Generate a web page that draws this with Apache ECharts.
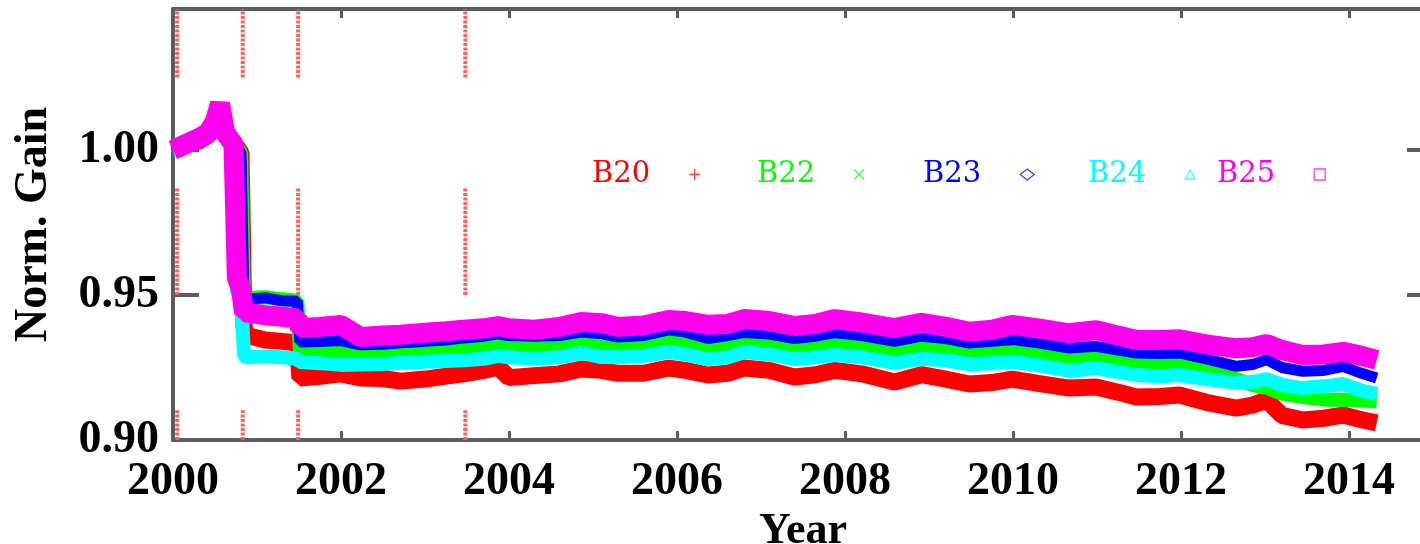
<!DOCTYPE html>
<html>
<head>
<meta charset="utf-8">
<script src="https://cdn.jsdelivr.net/npm/echarts@6/dist/echarts.min.js"></script>
<style>
  html, body { margin: 0; padding: 0; background: #fff; }
  #chart { width: 1420px; height: 544px; }
</style>
</head>
<body>
<div id="chart"></div>
<script>
// sample times (decimal year)
const years = [
  2000.00, 2000.15, 2000.30, 2000.42, 2000.50, 2000.56, 2000.62, 2000.72, 2000.76, 2000.81,
  2000.845, 2000.88, 2001.10, 2001.30, 2001.48, 2001.51, 2001.75, 2002.00, 2002.23, 2002.50,
  2002.71, 2003.00, 2003.25, 2003.46, 2003.70, 2003.87, 2004.00, 2004.30, 2004.60, 2004.86,
  2005.10, 2005.30, 2005.60, 2005.90, 2006.10, 2006.37, 2006.60, 2006.80, 2007.10, 2007.40,
  2007.65, 2007.88, 2008.20, 2008.59, 2008.91, 2009.20, 2009.48, 2009.75, 2009.99, 2010.30,
  2010.67, 2010.99, 2011.25, 2011.47, 2011.75, 2011.98, 2012.30, 2012.66, 2012.85, 2013.02,
  2013.20, 2013.45, 2013.70, 2013.93, 2014.15, 2014.33
];

const gainB20 = [
  1.000, 1.002, 1.003, 1.005, 1.009, 1.013, 1.005, 1.002, 1.001, 0.999,
  0.939, 0.936, 0.9345, 0.934, 0.9335, 0.9214, 0.922, 0.9228, 0.9214, 0.9212,
  0.9203, 0.921, 0.922, 0.9228, 0.924, 0.9252, 0.9215, 0.9222, 0.9228, 0.9245,
  0.924, 0.923, 0.923, 0.9248, 0.924, 0.9224, 0.923, 0.9248, 0.924, 0.9217,
  0.9225, 0.924, 0.9228, 0.920, 0.9225, 0.921, 0.9193, 0.9198, 0.921, 0.9195,
  0.9179, 0.9183, 0.9165, 0.9148, 0.915, 0.9155, 0.913, 0.911, 0.912, 0.9138,
  0.9085, 0.9069, 0.9075, 0.9086, 0.907, 0.9059
];
const gainB22 = [
  1.000, 1.002, 1.003, 1.005, 1.009, 1.013, 1.006, 1.002, 1.001, 0.999,
  0.9485, 0.949, 0.9492, 0.9485, 0.948, 0.9307, 0.9305, 0.9306, 0.930, 0.9303,
  0.9307, 0.931, 0.9315, 0.932, 0.932, 0.932, 0.9325, 0.932, 0.9325, 0.9336,
  0.932, 0.932, 0.9328, 0.9345, 0.934, 0.932, 0.9328, 0.934, 0.9335, 0.9318,
  0.9325, 0.9336, 0.933, 0.931, 0.9323, 0.931, 0.9297, 0.930, 0.9303, 0.9295,
  0.9283, 0.929, 0.9275, 0.926, 0.926, 0.9262, 0.9235, 0.921, 0.919, 0.918,
  0.916, 0.9148, 0.914, 0.9138, 0.9136, 0.9134
];
const gainB23 = [
  1.000, 1.002, 1.003, 1.005, 1.009, 1.014, 1.006, 1.002, 1.001, 0.999,
  0.948, 0.9485, 0.949, 0.948, 0.9478, 0.9338, 0.934, 0.9343, 0.9328, 0.933,
  0.9335, 0.934, 0.9345, 0.9352, 0.9358, 0.9365, 0.936, 0.9358, 0.936, 0.9372,
  0.9366, 0.9355, 0.936, 0.938, 0.9372, 0.935, 0.936, 0.9371, 0.9365, 0.935,
  0.9358, 0.937, 0.936, 0.934, 0.9358, 0.935, 0.9334, 0.934, 0.9346, 0.9335,
  0.9317, 0.9323, 0.931, 0.930, 0.9298, 0.930, 0.928, 0.9254, 0.926, 0.9277,
  0.925, 0.9237, 0.924, 0.9254, 0.923, 0.9214
];
const gainB24 = [
  1.000, 1.001, 1.003, 1.005, 1.009, 1.013, 1.005, 1.000, 0.951, 0.950,
  0.929, 0.9285, 0.9288, 0.9285, 0.928, 0.9269, 0.9265, 0.9259, 0.926, 0.9262,
  0.9266, 0.927, 0.9272, 0.9275, 0.928, 0.929, 0.9285, 0.928, 0.9285, 0.930,
  0.9286, 0.9285, 0.929, 0.9303, 0.9295, 0.9278, 0.9285, 0.9303, 0.9295, 0.9279,
  0.9285, 0.9293, 0.9285, 0.9266, 0.928, 0.9275, 0.9262, 0.9265, 0.927, 0.9258,
  0.9238, 0.9248, 0.9235, 0.9224, 0.922, 0.9224, 0.921, 0.9197, 0.920, 0.921,
  0.919, 0.9179, 0.9185, 0.9193, 0.917, 0.9159
];
const gainB25 = [
  1.000, 1.002, 1.004, 1.006, 1.010, 1.016, 1.006, 1.002, 0.956, 0.952,
  0.944, 0.944, 0.943, 0.9425, 0.942, 0.9386, 0.939, 0.9397, 0.9355, 0.936,
  0.9363, 0.937, 0.9375, 0.938, 0.9385, 0.9393, 0.9385, 0.938, 0.939, 0.9407,
  0.9403, 0.939, 0.9395, 0.9414, 0.941, 0.9397, 0.940, 0.9417, 0.941, 0.9393,
  0.940, 0.9417, 0.9405, 0.9386, 0.9404, 0.939, 0.9373, 0.938, 0.9397, 0.9385,
  0.9368, 0.9379, 0.936, 0.9345, 0.9345, 0.9347, 0.933, 0.9316, 0.932, 0.9331,
  0.931, 0.9293, 0.9295, 0.9304, 0.929, 0.9276
];

const bandNames = ['B20', 'B22', 'B23', 'B24', 'B25'];
const bandGains = [gainB20, gainB22, gainB23, gainB24, gainB25];

// dotted event markers (year) and the gain spans they are drawn over
const eventYears = [2000.05, 2000.83, 2001.49, 2003.48];
const eventSpans = [[1.025, 1.0485], [0.95, 0.987], [0.90, 0.9103]];

const colors = ['#ff0000', '#00ff00', '#0000ff', '#00ffff', '#ff00ee'];
const widths = [17, 14, 11, 14, 20];
const icons = [
  'path://M0,5L10,5M5,0L5,10',
  'path://M0,0L10,10M10,0L0,10',
  'diamond',
  'triangle',
  'rect'
];
const iconSize = [[11, 11], [10, 10], [14, 11], [10, 9], [11, 11]];
const legendLeft = [587, 752, 918, 1083, 1212];

const axisGray = '#5c5c5c';
const font = 'Liberation Serif';

const series = bandNames.map((name, i) => ({
  name,
  type: 'line',
  showSymbol: false,
  symbol: 'none',
  silent: true,
  data: years.map((t, k) => [t, bandGains[i][k]]),
  lineStyle: { color: colors[i], width: widths[i], join: 'bevel' },
  itemStyle: { color: colors[i] },
  z: 3 + i
}));

// one dotted series per event year, broken between the spans
eventYears.forEach((t, i) => {
  const pts = [];
  eventSpans.forEach((s, j) => {
    if (j > 0) pts.push([t, '-']);
    pts.push([t, s[0]], [t, s[1]]);
  });
  series.push({
    name: 'event' + i,
    type: 'line',
    data: pts,
    connectNulls: false,
    showSymbol: false,
    symbol: 'none',
    silent: true,
    z: 2,
    lineStyle: { color: '#ff5f5f', width: 4, type: [3, 1.5], cap: 'butt' }
  });
});

const legends = bandNames.map((name, i) => ({
  data: [name],
  left: legendLeft[i],
  top: 155,
  orient: 'horizontal',
  align: 'right',
  icon: icons[i],
  itemWidth: iconSize[i][0],
  itemHeight: iconSize[i][1],
  selectedMode: false,
  itemStyle: { color: 'none', borderColor: colors[i], borderWidth: 1.3, opacity: 0.75 },
  textStyle: {
    color: colors[i],
    fontFamily: 'DejaVu Serif',
    fontSize: 29,
    padding: [0, 34, 0, 0]
  }
}));

const chart = echarts.init(document.getElementById('chart'));
chart.setOption({
  animation: false,
  backgroundColor: '#fff',
  grid: { left: 173, top: 9, width: 1260, height: 431, containLabel: false, outerBoundsMode: 'none' },
  legend: legends,
  xAxis: [{
    type: 'value',
    min: 2000,
    max: 2015,
    interval: 2,
    position: 'bottom',
    name: 'Year',
    nameLocation: 'middle',
    nameGap: 66,
    nameTextStyle: { fontFamily: font, fontWeight: 'bold', fontSize: 44, color: '#000' },
    axisLine: { show: true, onZero: false, lineStyle: { color: axisGray, width: 4 } },
    axisTick: { show: true, inside: true, length: 9, lineStyle: { color: axisGray, width: 3 } },
    axisLabel: {
      show: true, margin: 19, color: '#000', fontFamily: font, fontWeight: 'bold', fontSize: 46,
      showMaxLabel: false,
      formatter: v => String(Math.round(v))
    },
    splitLine: { show: false }
  }, {
    type: 'value',
    min: 2000,
    max: 2015,
    interval: 2,
    position: 'top',
    axisLine: { show: true, onZero: false, lineStyle: { color: axisGray, width: 4 } },
    axisTick: { show: true, inside: true, length: 9, lineStyle: { color: axisGray, width: 3 } },
    axisLabel: { show: false },
    splitLine: { show: false }
  }],
  yAxis: [{
    type: 'value',
    min: 0.90,
    max: 1.0486,
    interval: 0.05,
    position: 'left',
    name: 'Norm. Gain',
    nameLocation: 'middle',
    nameGap: 116,
    nameTextStyle: { fontFamily: font, fontWeight: 'bold', fontSize: 46, color: '#000' },
    axisLine: { show: true, onZero: false, lineStyle: { color: axisGray, width: 4 } },
    axisTick: { show: true, inside: true, length: 26, lineStyle: { color: axisGray, width: 4 } },
    axisLabel: {
      show: true, margin: 14, color: '#000', fontFamily: font, fontWeight: 'bold', fontSize: 46,
      showMaxLabel: false,
      formatter: v => v.toFixed(2)
    },
    splitLine: { show: false }
  }, {
    type: 'value',
    min: 0.90,
    max: 1.0486,
    interval: 0.05,
    position: 'right',
    axisLine: { show: true, onZero: false, lineStyle: { color: axisGray, width: 4 } },
    axisTick: { show: true, inside: true, length: 26, lineStyle: { color: axisGray, width: 4 } },
    axisLabel: { show: false },
    splitLine: { show: false }
  }],
  series
});
</script>
</body>
</html>
